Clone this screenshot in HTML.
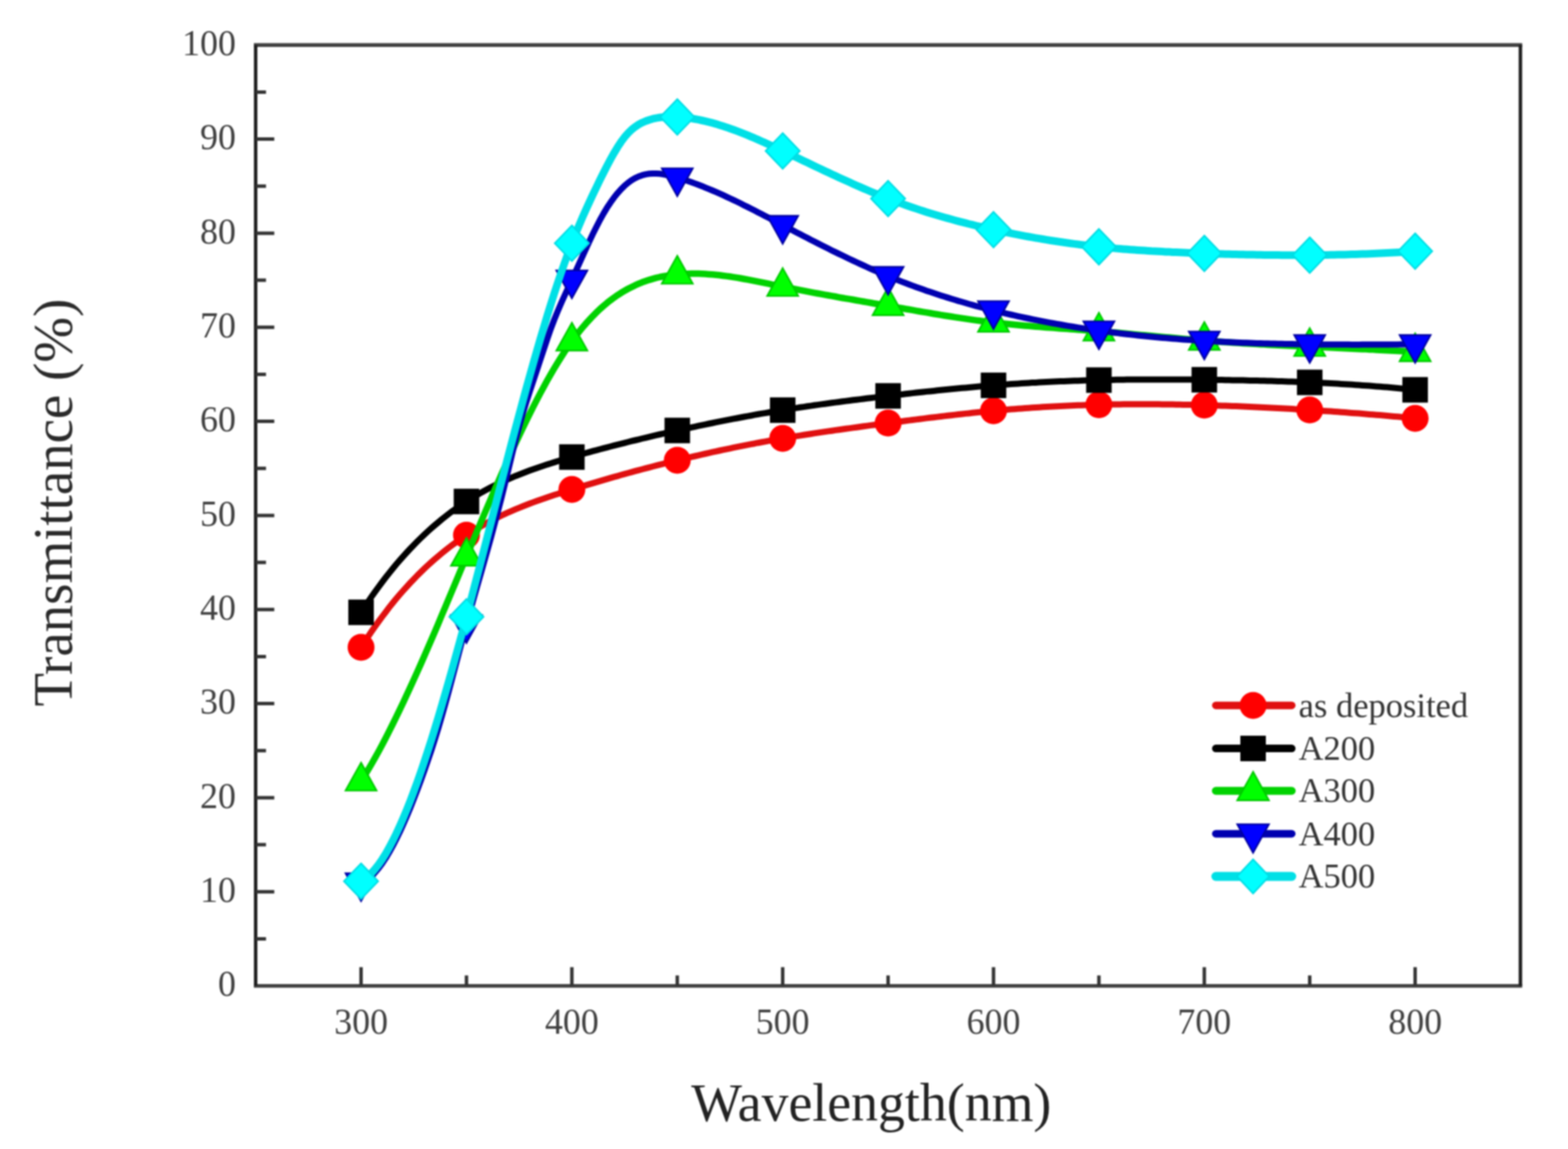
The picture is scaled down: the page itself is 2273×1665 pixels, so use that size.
<!DOCTYPE html>
<html><head><meta charset="utf-8"><title>Transmittance vs Wavelength</title>
<style>html,body{margin:0;padding:0;background:#fff;}body{width:2273px;height:1665px;overflow:hidden;}svg{display:block;filter:blur(0.85px);}</style>
</head><body>
<svg width="2273" height="1665" viewBox="0 0 2273 1665">
<rect width="2273" height="1665" fill="#fff"/>
<path d="M523.4,938.0 L528.5,930.1 L533.6,922.4 L538.7,914.9 L543.8,907.6 L548.9,900.5 L554.0,893.6 L559.1,886.9 L564.1,880.3 L569.2,873.9 L574.3,867.7 L579.4,861.7 L584.5,855.9 L589.6,850.2 L594.7,844.6 L599.8,839.3 L604.9,834.0 L610.0,829.0 L615.1,824.1 L620.2,819.3 L625.3,814.7 L630.4,810.2 L635.5,805.8 L640.5,801.6 L645.6,797.5 L650.7,793.5 L655.8,789.7 L660.9,786.0 L666.0,782.4 L671.1,778.9 L676.2,775.5 L681.3,772.2 L686.4,769.1 L691.5,766.0 L696.6,763.0 L701.7,760.1 L706.8,757.3 L711.9,754.6 L716.9,752.0 L722.0,749.5 L727.1,747.0 L732.2,744.7 L737.3,742.3 L742.4,740.1 L747.5,737.9 L752.6,735.8 L757.7,733.8 L762.8,731.8 L767.9,729.8 L773.0,727.9 L778.1,726.1 L783.2,724.2 L788.3,722.5 L793.3,720.7 L798.4,719.0 L803.5,717.3 L808.6,715.7 L813.7,714.1 L818.8,712.5 L823.9,710.9 L829.0,709.3 L834.1,707.7 L839.2,706.2 L844.3,704.6 L849.4,703.1 L854.5,701.6 L859.6,700.1 L864.7,698.6 L869.7,697.1 L874.8,695.6 L879.9,694.1 L885.0,692.6 L890.1,691.2 L895.2,689.8 L900.3,688.3 L905.4,686.9 L910.5,685.5 L915.6,684.1 L920.7,682.7 L925.8,681.3 L930.9,680.0 L936.0,678.6 L941.1,677.3 L946.1,676.0 L951.2,674.7 L956.3,673.3 L961.4,672.1 L966.5,670.8 L971.6,669.5 L976.7,668.2 L981.8,667.0 L986.9,665.8 L992.0,664.5 L997.1,663.3 L1002.2,662.1 L1007.3,661.0 L1012.4,659.8 L1017.5,658.6 L1022.5,657.5 L1027.6,656.3 L1032.7,655.2 L1037.8,654.1 L1042.9,653.0 L1048.0,651.9 L1053.1,650.8 L1058.2,649.8 L1063.3,648.7 L1068.4,647.7 L1073.5,646.7 L1078.6,645.6 L1083.7,644.6 L1088.8,643.6 L1093.9,642.7 L1098.9,641.7 L1104.0,640.8 L1109.1,639.8 L1114.2,638.9 L1119.3,638.0 L1124.4,637.1 L1129.5,636.2 L1134.6,635.3 L1139.7,634.4 L1144.8,633.6 L1149.9,632.7 L1155.0,631.9 L1160.1,631.1 L1165.2,630.3 L1170.3,629.5 L1175.3,628.7 L1180.4,627.9 L1185.5,627.1 L1190.6,626.4 L1195.7,625.6 L1200.8,624.9 L1205.9,624.2 L1211.0,623.4 L1216.1,622.7 L1221.2,622.0 L1226.3,621.3 L1231.4,620.6 L1236.5,619.9 L1241.6,619.2 L1246.7,618.5 L1251.7,617.8 L1256.8,617.1 L1261.9,616.4 L1267.0,615.8 L1272.1,615.1 L1277.2,614.4 L1282.3,613.8 L1287.4,613.1 L1292.5,612.4 L1297.6,611.8 L1302.7,611.1 L1307.8,610.5 L1312.9,609.8 L1318.0,609.1 L1323.1,608.5 L1328.1,607.9 L1333.2,607.2 L1338.3,606.6 L1343.4,605.9 L1348.5,605.3 L1353.6,604.7 L1358.7,604.1 L1363.8,603.5 L1368.9,602.9 L1374.0,602.3 L1379.1,601.7 L1384.2,601.1 L1389.3,600.5 L1394.4,600.0 L1399.5,599.4 L1404.5,598.9 L1409.6,598.3 L1414.7,597.8 L1419.8,597.3 L1424.9,596.8 L1430.0,596.3 L1435.1,595.8 L1440.2,595.3 L1445.3,594.8 L1450.4,594.4 L1455.5,593.9 L1460.6,593.5 L1465.7,593.1 L1470.8,592.7 L1475.9,592.3 L1480.9,591.9 L1486.0,591.5 L1491.1,591.2 L1496.2,590.8 L1501.3,590.5 L1506.4,590.2 L1511.5,589.8 L1516.6,589.5 L1521.7,589.3 L1526.8,589.0 L1531.9,588.7 L1537.0,588.5 L1542.1,588.2 L1547.2,588.0 L1552.3,587.8 L1557.3,587.5 L1562.4,587.3 L1567.5,587.2 L1572.6,587.0 L1577.7,586.8 L1582.8,586.7 L1587.9,586.5 L1593.0,586.4 L1598.1,586.3 L1603.2,586.2 L1608.3,586.1 L1613.4,586.0 L1618.5,585.9 L1623.6,585.9 L1628.7,585.8 L1633.7,585.8 L1638.8,585.7 L1643.9,585.7 L1649.0,585.7 L1654.1,585.7 L1659.2,585.7 L1664.3,585.7 L1669.4,585.8 L1674.5,585.8 L1679.6,585.8 L1684.7,585.9 L1689.8,585.9 L1694.9,586.0 L1700.0,586.1 L1705.1,586.2 L1710.1,586.3 L1715.2,586.4 L1720.3,586.5 L1725.4,586.6 L1730.5,586.7 L1735.6,586.8 L1740.7,587.0 L1745.8,587.1 L1750.9,587.2 L1756.0,587.4 L1761.1,587.6 L1766.2,587.7 L1771.3,587.9 L1776.4,588.1 L1781.5,588.3 L1786.5,588.4 L1791.6,588.6 L1796.7,588.8 L1801.8,589.0 L1806.9,589.3 L1812.0,589.5 L1817.1,589.7 L1822.2,589.9 L1827.3,590.2 L1832.4,590.4 L1837.5,590.7 L1842.6,590.9 L1847.7,591.2 L1852.8,591.4 L1857.9,591.7 L1862.9,592.0 L1868.0,592.3 L1873.1,592.6 L1878.2,592.9 L1883.3,593.2 L1888.4,593.5 L1893.5,593.8 L1898.6,594.1 L1903.7,594.4 L1908.8,594.8 L1913.9,595.1 L1919.0,595.4 L1924.1,595.8 L1929.2,596.1 L1934.3,596.5 L1939.3,596.8 L1944.4,597.2 L1949.5,597.6 L1954.6,598.0 L1959.7,598.4 L1964.8,598.7 L1969.9,599.1 L1975.0,599.5 L1980.1,599.9 L1985.2,600.4 L1990.3,600.8 L1995.4,601.2 L2000.5,601.6 L2005.6,602.1 L2010.7,602.5 L2015.7,602.9 L2020.8,603.4 L2025.9,603.8 L2031.0,604.3 L2036.1,604.8 L2041.2,605.2 L2046.3,605.7 L2051.4,606.2" fill="none" stroke="#e01010" stroke-width="9" stroke-linejoin="round"/>
<circle cx="523.4" cy="938.0" r="19.5" fill="#ff0000"/>
<circle cx="676.2" cy="775.5" r="19.5" fill="#ff0000"/>
<circle cx="829.0" cy="709.3" r="19.5" fill="#ff0000"/>
<circle cx="981.8" cy="667.0" r="19.5" fill="#ff0000"/>
<circle cx="1134.6" cy="635.3" r="19.5" fill="#ff0000"/>
<circle cx="1287.4" cy="613.1" r="19.5" fill="#ff0000"/>
<circle cx="1440.2" cy="595.3" r="19.5" fill="#ff0000"/>
<circle cx="1593.0" cy="586.4" r="19.5" fill="#ff0000"/>
<circle cx="1745.8" cy="587.1" r="19.5" fill="#ff0000"/>
<circle cx="1898.6" cy="594.1" r="19.5" fill="#ff0000"/>
<circle cx="2051.4" cy="606.2" r="19.5" fill="#ff0000"/>
<path d="M523.4,887.3 L528.5,879.5 L533.6,871.9 L538.7,864.5 L543.8,857.3 L548.9,850.3 L554.0,843.5 L559.1,836.8 L564.1,830.4 L569.2,824.1 L574.3,817.9 L579.4,812.0 L584.5,806.2 L589.6,800.6 L594.7,795.1 L599.8,789.8 L604.9,784.6 L610.0,779.6 L615.1,774.7 L620.2,770.0 L625.3,765.4 L630.4,761.0 L635.5,756.7 L640.5,752.5 L645.6,748.5 L650.7,744.5 L655.8,740.7 L660.9,737.1 L666.0,733.5 L671.1,730.0 L676.2,726.7 L681.3,723.5 L686.4,720.3 L691.5,717.3 L696.6,714.4 L701.7,711.5 L706.8,708.8 L711.9,706.1 L716.9,703.6 L722.0,701.1 L727.1,698.7 L732.2,696.3 L737.3,694.1 L742.4,691.9 L747.5,689.7 L752.6,687.7 L757.7,685.7 L762.8,683.7 L767.9,681.8 L773.0,680.0 L778.1,678.2 L783.2,676.5 L788.3,674.8 L793.3,673.1 L798.4,671.5 L803.5,669.9 L808.6,668.3 L813.7,666.8 L818.8,665.3 L823.9,663.8 L829.0,662.3 L834.1,660.8 L839.2,659.4 L844.3,658.0 L849.4,656.5 L854.5,655.1 L859.6,653.7 L864.7,652.4 L869.7,651.0 L874.8,649.6 L879.9,648.3 L885.0,647.0 L890.1,645.6 L895.2,644.3 L900.3,643.1 L905.4,641.8 L910.5,640.5 L915.6,639.2 L920.7,638.0 L925.8,636.8 L930.9,635.5 L936.0,634.3 L941.1,633.1 L946.1,631.9 L951.2,630.7 L956.3,629.5 L961.4,628.4 L966.5,627.2 L971.6,626.1 L976.7,624.9 L981.8,623.8 L986.9,622.7 L992.0,621.6 L997.1,620.5 L1002.2,619.4 L1007.3,618.3 L1012.4,617.2 L1017.5,616.1 L1022.5,615.1 L1027.6,614.0 L1032.7,613.0 L1037.8,611.9 L1042.9,610.9 L1048.0,609.9 L1053.1,608.9 L1058.2,607.9 L1063.3,606.9 L1068.4,606.0 L1073.5,605.0 L1078.6,604.0 L1083.7,603.1 L1088.8,602.2 L1093.9,601.2 L1098.9,600.3 L1104.0,599.4 L1109.1,598.6 L1114.2,597.7 L1119.3,596.8 L1124.4,596.0 L1129.5,595.1 L1134.6,594.3 L1139.7,593.5 L1144.8,592.7 L1149.9,591.9 L1155.0,591.1 L1160.1,590.3 L1165.2,589.6 L1170.3,588.8 L1175.3,588.1 L1180.4,587.3 L1185.5,586.6 L1190.6,585.9 L1195.7,585.2 L1200.8,584.5 L1205.9,583.8 L1211.0,583.1 L1216.1,582.5 L1221.2,581.8 L1226.3,581.1 L1231.4,580.5 L1236.5,579.8 L1241.6,579.2 L1246.7,578.6 L1251.7,578.0 L1256.8,577.3 L1261.9,576.7 L1267.0,576.1 L1272.1,575.5 L1277.2,574.9 L1282.3,574.3 L1287.4,573.7 L1292.5,573.1 L1297.6,572.5 L1302.7,571.9 L1307.8,571.4 L1312.9,570.8 L1318.0,570.2 L1323.1,569.6 L1328.1,569.1 L1333.2,568.5 L1338.3,568.0 L1343.4,567.4 L1348.5,566.9 L1353.6,566.4 L1358.7,565.8 L1363.8,565.3 L1368.9,564.8 L1374.0,564.3 L1379.1,563.8 L1384.2,563.3 L1389.3,562.8 L1394.4,562.3 L1399.5,561.9 L1404.5,561.4 L1409.6,560.9 L1414.7,560.5 L1419.8,560.1 L1424.9,559.6 L1430.0,559.2 L1435.1,558.8 L1440.2,558.4 L1445.3,558.0 L1450.4,557.6 L1455.5,557.3 L1460.6,556.9 L1465.7,556.5 L1470.8,556.2 L1475.9,555.9 L1480.9,555.6 L1486.0,555.2 L1491.1,554.9 L1496.2,554.6 L1501.3,554.4 L1506.4,554.1 L1511.5,553.8 L1516.6,553.6 L1521.7,553.3 L1526.8,553.1 L1531.9,552.8 L1537.0,552.6 L1542.1,552.4 L1547.2,552.2 L1552.3,552.0 L1557.3,551.8 L1562.4,551.7 L1567.5,551.5 L1572.6,551.3 L1577.7,551.2 L1582.8,551.1 L1587.9,550.9 L1593.0,550.8 L1598.1,550.7 L1603.2,550.6 L1608.3,550.5 L1613.4,550.4 L1618.5,550.3 L1623.6,550.2 L1628.7,550.2 L1633.7,550.1 L1638.8,550.1 L1643.9,550.0 L1649.0,550.0 L1654.1,549.9 L1659.2,549.9 L1664.3,549.9 L1669.4,549.9 L1674.5,549.9 L1679.6,549.9 L1684.7,549.9 L1689.8,549.9 L1694.9,549.9 L1700.0,549.9 L1705.1,550.0 L1710.1,550.0 L1715.2,550.0 L1720.3,550.1 L1725.4,550.1 L1730.5,550.1 L1735.6,550.2 L1740.7,550.2 L1745.8,550.3 L1750.9,550.4 L1756.0,550.4 L1761.1,550.5 L1766.2,550.6 L1771.3,550.6 L1776.4,550.7 L1781.5,550.8 L1786.5,550.9 L1791.6,551.0 L1796.7,551.1 L1801.8,551.1 L1806.9,551.3 L1812.0,551.4 L1817.1,551.5 L1822.2,551.6 L1827.3,551.7 L1832.4,551.8 L1837.5,552.0 L1842.6,552.1 L1847.7,552.3 L1852.8,552.4 L1857.9,552.6 L1862.9,552.7 L1868.0,552.9 L1873.1,553.1 L1878.2,553.3 L1883.3,553.5 L1888.4,553.7 L1893.5,553.9 L1898.6,554.1 L1903.7,554.3 L1908.8,554.6 L1913.9,554.8 L1919.0,555.0 L1924.1,555.3 L1929.2,555.6 L1934.3,555.8 L1939.3,556.1 L1944.4,556.4 L1949.5,556.7 L1954.6,557.0 L1959.7,557.3 L1964.8,557.7 L1969.9,558.0 L1975.0,558.4 L1980.1,558.7 L1985.2,559.1 L1990.3,559.5 L1995.4,559.9 L2000.5,560.3 L2005.6,560.7 L2010.7,561.1 L2015.7,561.5 L2020.8,562.0 L2025.9,562.4 L2031.0,562.9 L2036.1,563.4 L2041.2,563.9 L2046.3,564.4 L2051.4,564.9" fill="none" stroke="#000000" stroke-width="9" stroke-linejoin="round"/>
<rect x="504.9" y="868.8" width="37" height="37" fill="#000000"/>
<rect x="657.7" y="708.2" width="37" height="37" fill="#000000"/>
<rect x="810.5" y="643.8" width="37" height="37" fill="#000000"/>
<rect x="963.3" y="605.3" width="37" height="37" fill="#000000"/>
<rect x="1116.1" y="575.8" width="37" height="37" fill="#000000"/>
<rect x="1268.9" y="555.2" width="37" height="37" fill="#000000"/>
<rect x="1421.7" y="539.9" width="37" height="37" fill="#000000"/>
<rect x="1574.5" y="532.3" width="37" height="37" fill="#000000"/>
<rect x="1727.3" y="531.8" width="37" height="37" fill="#000000"/>
<rect x="1880.1" y="535.6" width="37" height="37" fill="#000000"/>
<rect x="2032.9" y="546.4" width="37" height="37" fill="#000000"/>
<path d="M523.4,1132.1 L528.5,1124.0 L533.6,1115.5 L538.7,1106.9 L543.8,1097.9 L548.9,1088.7 L554.0,1079.2 L559.1,1069.5 L564.1,1059.6 L569.2,1049.5 L574.3,1039.2 L579.4,1028.7 L584.5,1018.0 L589.6,1007.1 L594.7,996.1 L599.8,984.9 L604.9,973.6 L610.0,962.2 L615.1,950.6 L620.2,938.9 L625.3,927.1 L630.4,915.3 L635.5,903.4 L640.5,891.3 L645.6,879.3 L650.7,867.2 L655.8,855.0 L660.9,842.9 L666.0,830.7 L671.1,818.5 L676.2,806.3 L681.3,794.1 L686.4,782.0 L691.5,769.9 L696.6,757.8 L701.7,745.8 L706.8,733.9 L711.9,722.0 L716.9,710.2 L722.0,698.6 L727.1,687.0 L732.2,675.6 L737.3,664.2 L742.4,653.1 L747.5,642.0 L752.6,631.2 L757.7,620.5 L762.8,610.0 L767.9,599.7 L773.0,589.5 L778.1,579.6 L783.2,569.9 L788.3,560.5 L793.3,551.3 L798.4,542.3 L803.5,533.6 L808.6,525.2 L813.7,517.1 L818.8,509.2 L823.9,501.7 L829.0,494.5 L834.1,487.6 L839.2,481.0 L844.3,474.8 L849.4,468.8 L854.5,463.2 L859.6,457.8 L864.7,452.7 L869.7,447.9 L874.8,443.4 L879.9,439.1 L885.0,435.1 L890.1,431.3 L895.2,427.7 L900.3,424.4 L905.4,421.4 L910.5,418.5 L915.6,415.9 L920.7,413.4 L925.8,411.2 L930.9,409.1 L936.0,407.3 L941.1,405.6 L946.1,404.1 L951.2,402.7 L956.3,401.5 L961.4,400.5 L966.5,399.6 L971.6,398.8 L976.7,398.1 L981.8,397.6 L986.9,397.2 L992.0,396.9 L997.1,396.7 L1002.2,396.6 L1007.3,396.6 L1012.4,396.6 L1017.5,396.8 L1022.5,397.1 L1027.6,397.4 L1032.7,397.8 L1037.8,398.3 L1042.9,398.8 L1048.0,399.5 L1053.1,400.1 L1058.2,400.8 L1063.3,401.6 L1068.4,402.4 L1073.5,403.3 L1078.6,404.2 L1083.7,405.1 L1088.8,406.1 L1093.9,407.1 L1098.9,408.1 L1104.0,409.1 L1109.1,410.2 L1114.2,411.2 L1119.3,412.3 L1124.4,413.3 L1129.5,414.4 L1134.6,415.4 L1139.7,416.4 L1144.8,417.4 L1149.9,418.5 L1155.0,419.5 L1160.1,420.4 L1165.2,421.4 L1170.3,422.4 L1175.3,423.3 L1180.4,424.3 L1185.5,425.2 L1190.6,426.2 L1195.7,427.1 L1200.8,428.0 L1205.9,428.9 L1211.0,429.8 L1216.1,430.8 L1221.2,431.7 L1226.3,432.6 L1231.4,433.4 L1236.5,434.3 L1241.6,435.2 L1246.7,436.1 L1251.7,437.0 L1256.8,437.9 L1261.9,438.8 L1267.0,439.7 L1272.1,440.5 L1277.2,441.4 L1282.3,442.3 L1287.4,443.2 L1292.5,444.1 L1297.6,445.0 L1302.7,445.9 L1307.8,446.8 L1312.9,447.7 L1318.0,448.5 L1323.1,449.4 L1328.1,450.3 L1333.2,451.2 L1338.3,452.1 L1343.4,452.9 L1348.5,453.8 L1353.6,454.7 L1358.7,455.5 L1363.8,456.4 L1368.9,457.2 L1374.0,458.0 L1379.1,458.8 L1384.2,459.6 L1389.3,460.4 L1394.4,461.1 L1399.5,461.9 L1404.5,462.6 L1409.6,463.4 L1414.7,464.1 L1419.8,464.7 L1424.9,465.4 L1430.0,466.1 L1435.1,466.7 L1440.2,467.3 L1445.3,467.9 L1450.4,468.4 L1455.5,469.0 L1460.6,469.5 L1465.7,470.0 L1470.8,470.5 L1475.9,471.0 L1480.9,471.5 L1486.0,471.9 L1491.1,472.3 L1496.2,472.8 L1501.3,473.2 L1506.4,473.6 L1511.5,474.0 L1516.6,474.4 L1521.7,474.7 L1526.8,475.1 L1531.9,475.5 L1537.0,475.9 L1542.1,476.2 L1547.2,476.6 L1552.3,477.0 L1557.3,477.3 L1562.4,477.7 L1567.5,478.1 L1572.6,478.4 L1577.7,478.8 L1582.8,479.2 L1587.9,479.6 L1593.0,480.0 L1598.1,480.4 L1603.2,480.8 L1608.3,481.3 L1613.4,481.7 L1618.5,482.1 L1623.6,482.6 L1628.7,483.0 L1633.7,483.5 L1638.8,484.0 L1643.9,484.4 L1649.0,484.9 L1654.1,485.4 L1659.2,485.8 L1664.3,486.3 L1669.4,486.8 L1674.5,487.2 L1679.6,487.7 L1684.7,488.2 L1689.8,488.7 L1694.9,489.1 L1700.0,489.6 L1705.1,490.0 L1710.1,490.5 L1715.2,490.9 L1720.3,491.4 L1725.4,491.8 L1730.5,492.3 L1735.6,492.7 L1740.7,493.1 L1745.8,493.5 L1750.9,493.9 L1756.0,494.3 L1761.1,494.7 L1766.2,495.0 L1771.3,495.4 L1776.4,495.7 L1781.5,496.1 L1786.5,496.4 L1791.6,496.7 L1796.7,497.1 L1801.8,497.4 L1806.9,497.7 L1812.0,498.0 L1817.1,498.3 L1822.2,498.6 L1827.3,498.9 L1832.4,499.1 L1837.5,499.4 L1842.6,499.7 L1847.7,499.9 L1852.8,500.2 L1857.9,500.5 L1862.9,500.7 L1868.0,501.0 L1873.1,501.2 L1878.2,501.4 L1883.3,501.7 L1888.4,501.9 L1893.5,502.2 L1898.6,502.4 L1903.7,502.6 L1908.8,502.9 L1913.9,503.1 L1919.0,503.3 L1924.1,503.6 L1929.2,503.8 L1934.3,504.0 L1939.3,504.3 L1944.4,504.5 L1949.5,504.7 L1954.6,504.9 L1959.7,505.2 L1964.8,505.4 L1969.9,505.7 L1975.0,505.9 L1980.1,506.1 L1985.2,506.4 L1990.3,506.6 L1995.4,506.9 L2000.5,507.2 L2005.6,507.4 L2010.7,507.7 L2015.7,508.0 L2020.8,508.2 L2025.9,508.5 L2031.0,508.8 L2036.1,509.1 L2041.2,509.4 L2046.3,509.7 L2051.4,510.0" fill="none" stroke="#00d200" stroke-width="9.5" stroke-linejoin="round"/>
<polygon points="523.4,1105.2 545.9,1145.6 500.9,1145.6" fill="#00ff00" stroke="#00c800" stroke-width="2.4" stroke-linejoin="miter"/>
<polygon points="676.2,779.4 698.7,819.8 653.7,819.8" fill="#00ff00" stroke="#00c800" stroke-width="2.4" stroke-linejoin="miter"/>
<polygon points="829.0,467.6 851.5,508.0 806.5,508.0" fill="#00ff00" stroke="#00c800" stroke-width="2.4" stroke-linejoin="miter"/>
<polygon points="981.8,370.7 1004.3,411.1 959.3,411.1" fill="#00ff00" stroke="#00c800" stroke-width="2.4" stroke-linejoin="miter"/>
<polygon points="1134.6,388.5 1157.1,428.9 1112.1,428.9" fill="#00ff00" stroke="#00c800" stroke-width="2.4" stroke-linejoin="miter"/>
<polygon points="1287.4,416.3 1309.9,456.7 1264.9,456.7" fill="#00ff00" stroke="#00c800" stroke-width="2.4" stroke-linejoin="miter"/>
<polygon points="1440.2,440.4 1462.7,480.8 1417.7,480.8" fill="#00ff00" stroke="#00c800" stroke-width="2.4" stroke-linejoin="miter"/>
<polygon points="1593.0,453.1 1615.5,493.5 1570.5,493.5" fill="#00ff00" stroke="#00c800" stroke-width="2.4" stroke-linejoin="miter"/>
<polygon points="1745.8,466.6 1768.3,507.0 1723.3,507.0" fill="#00ff00" stroke="#00c800" stroke-width="2.4" stroke-linejoin="miter"/>
<polygon points="1898.6,475.5 1921.1,515.9 1876.1,515.9" fill="#00ff00" stroke="#00c800" stroke-width="2.4" stroke-linejoin="miter"/>
<polygon points="2051.4,483.1 2073.9,523.5 2028.9,523.5" fill="#00ff00" stroke="#00c800" stroke-width="2.4" stroke-linejoin="miter"/>
<path d="M523.4,1279.0 L528.5,1276.7 L533.6,1273.4 L538.7,1269.2 L543.8,1264.0 L548.9,1258.0 L554.0,1251.2 L559.1,1243.6 L564.1,1235.2 L569.2,1226.1 L574.3,1216.2 L579.4,1205.8 L584.5,1194.6 L589.6,1182.9 L594.7,1170.7 L599.8,1157.9 L604.9,1144.7 L610.0,1130.9 L615.1,1116.8 L620.2,1102.1 L625.3,1087.0 L630.4,1071.1 L635.5,1054.7 L640.5,1037.4 L645.6,1019.4 L650.7,1000.8 L655.8,981.7 L660.9,962.4 L666.0,943.1 L671.1,923.8 L676.2,904.8 L681.3,886.2 L686.4,868.0 L691.5,850.0 L696.6,832.2 L701.7,814.3 L706.8,796.2 L711.9,778.0 L716.9,759.3 L722.0,740.2 L727.1,720.5 L732.2,700.0 L737.3,678.9 L742.4,657.7 L747.5,637.0 L752.6,617.5 L757.7,599.6 L762.8,583.0 L767.9,567.4 L773.0,552.1 L778.1,536.8 L783.2,521.3 L788.3,506.0 L793.3,491.0 L798.4,476.6 L803.5,463.1 L808.6,450.6 L813.7,438.8 L818.8,427.5 L823.9,416.4 L829.0,405.4 L834.1,394.2 L839.2,382.9 L844.3,371.6 L849.4,360.4 L854.5,349.3 L859.6,338.6 L864.7,328.4 L869.7,318.7 L874.8,309.6 L879.9,301.1 L885.0,293.4 L890.1,286.3 L895.2,279.9 L900.3,274.2 L905.4,269.2 L910.5,264.8 L915.6,261.1 L920.7,258.1 L925.8,255.7 L930.9,253.9 L936.0,252.6 L941.1,251.8 L946.1,251.4 L951.2,251.5 L956.3,251.8 L961.4,252.5 L966.5,253.5 L971.6,254.6 L976.7,255.9 L981.8,257.4 L986.9,258.9 L992.0,260.6 L997.1,262.3 L1002.2,264.0 L1007.3,265.9 L1012.4,267.8 L1017.5,269.7 L1022.5,271.8 L1027.6,273.9 L1032.7,276.0 L1037.8,278.2 L1042.9,280.4 L1048.0,282.7 L1053.1,285.1 L1058.2,287.5 L1063.3,289.9 L1068.4,292.3 L1073.5,294.8 L1078.6,297.4 L1083.7,299.9 L1088.8,302.5 L1093.9,305.1 L1098.9,307.7 L1104.0,310.3 L1109.1,313.0 L1114.2,315.6 L1119.3,318.3 L1124.4,321.0 L1129.5,323.6 L1134.6,326.3 L1139.7,329.0 L1144.8,331.6 L1149.9,334.3 L1155.0,336.9 L1160.1,339.6 L1165.2,342.2 L1170.3,344.8 L1175.3,347.5 L1180.4,350.1 L1185.5,352.6 L1190.6,355.2 L1195.7,357.8 L1200.8,360.3 L1205.9,362.9 L1211.0,365.4 L1216.1,367.9 L1221.2,370.3 L1226.3,372.8 L1231.4,375.2 L1236.5,377.6 L1241.6,380.0 L1246.7,382.4 L1251.7,384.7 L1256.8,387.0 L1261.9,389.3 L1267.0,391.5 L1272.1,393.7 L1277.2,395.9 L1282.3,398.1 L1287.4,400.2 L1292.5,402.3 L1297.6,404.3 L1302.7,406.4 L1307.8,408.4 L1312.9,410.3 L1318.0,412.2 L1323.1,414.1 L1328.1,416.0 L1333.2,417.8 L1338.3,419.6 L1343.4,421.4 L1348.5,423.1 L1353.6,424.8 L1358.7,426.5 L1363.8,428.2 L1368.9,429.8 L1374.0,431.4 L1379.1,433.0 L1384.2,434.5 L1389.3,436.1 L1394.4,437.5 L1399.5,439.0 L1404.5,440.5 L1409.6,441.9 L1414.7,443.3 L1419.8,444.6 L1424.9,446.0 L1430.0,447.3 L1435.1,448.6 L1440.2,449.9 L1445.3,451.2 L1450.4,452.4 L1455.5,453.6 L1460.6,454.8 L1465.7,456.0 L1470.8,457.1 L1475.9,458.3 L1480.9,459.4 L1486.0,460.5 L1491.1,461.5 L1496.2,462.6 L1501.3,463.6 L1506.4,464.6 L1511.5,465.6 L1516.6,466.6 L1521.7,467.6 L1526.8,468.5 L1531.9,469.4 L1537.0,470.3 L1542.1,471.2 L1547.2,472.1 L1552.3,472.9 L1557.3,473.8 L1562.4,474.6 L1567.5,475.4 L1572.6,476.1 L1577.7,476.9 L1582.8,477.7 L1587.9,478.4 L1593.0,479.1 L1598.1,479.8 L1603.2,480.5 L1608.3,481.1 L1613.4,481.8 L1618.5,482.4 L1623.6,483.1 L1628.7,483.7 L1633.7,484.3 L1638.8,484.8 L1643.9,485.4 L1649.0,485.9 L1654.1,486.5 L1659.2,487.0 L1664.3,487.5 L1669.4,488.0 L1674.5,488.5 L1679.6,488.9 L1684.7,489.4 L1689.8,489.8 L1694.9,490.3 L1700.0,490.7 L1705.1,491.1 L1710.1,491.5 L1715.2,491.9 L1720.3,492.2 L1725.4,492.6 L1730.5,492.9 L1735.6,493.3 L1740.7,493.6 L1745.8,493.9 L1750.9,494.2 L1756.0,494.5 L1761.1,494.8 L1766.2,495.0 L1771.3,495.3 L1776.4,495.5 L1781.5,495.8 L1786.5,496.0 L1791.6,496.2 L1796.7,496.5 L1801.8,496.7 L1806.9,496.8 L1812.0,497.0 L1817.1,497.2 L1822.2,497.4 L1827.3,497.5 L1832.4,497.7 L1837.5,497.8 L1842.6,498.0 L1847.7,498.1 L1852.8,498.2 L1857.9,498.3 L1862.9,498.4 L1868.0,498.5 L1873.1,498.6 L1878.2,498.7 L1883.3,498.8 L1888.4,498.9 L1893.5,498.9 L1898.6,499.0 L1903.7,499.1 L1908.8,499.1 L1913.9,499.2 L1919.0,499.2 L1924.1,499.2 L1929.2,499.3 L1934.3,499.3 L1939.3,499.3 L1944.4,499.3 L1949.5,499.3 L1954.6,499.3 L1959.7,499.4 L1964.8,499.4 L1969.9,499.4 L1975.0,499.3 L1980.1,499.3 L1985.2,499.3 L1990.3,499.3 L1995.4,499.3 L2000.5,499.3 L2005.6,499.3 L2010.7,499.2 L2015.7,499.2 L2020.8,499.2 L2025.9,499.2 L2031.0,499.1 L2036.1,499.1 L2041.2,499.1 L2046.3,499.0 L2051.4,499.0" fill="none" stroke="#0000b0" stroke-width="9" stroke-linejoin="round"/>
<polygon points="500.9,1265.5 545.9,1265.5 523.4,1305.9" fill="#0000ff" stroke="#0000a0" stroke-width="2.4" stroke-linejoin="miter"/>
<polygon points="653.7,891.3 698.7,891.3 676.2,931.7" fill="#0000ff" stroke="#0000a0" stroke-width="2.4" stroke-linejoin="miter"/>
<polygon points="806.5,391.9 851.5,391.9 829.0,432.3" fill="#0000ff" stroke="#0000a0" stroke-width="2.4" stroke-linejoin="miter"/>
<polygon points="959.3,243.9 1004.3,243.9 981.8,284.3" fill="#0000ff" stroke="#0000a0" stroke-width="2.4" stroke-linejoin="miter"/>
<polygon points="1112.1,312.8 1157.1,312.8 1134.6,353.2" fill="#0000ff" stroke="#0000a0" stroke-width="2.4" stroke-linejoin="miter"/>
<polygon points="1264.9,386.7 1309.9,386.7 1287.4,427.1" fill="#0000ff" stroke="#0000a0" stroke-width="2.4" stroke-linejoin="miter"/>
<polygon points="1417.7,436.4 1462.7,436.4 1440.2,476.8" fill="#0000ff" stroke="#0000a0" stroke-width="2.4" stroke-linejoin="miter"/>
<polygon points="1570.5,465.6 1615.5,465.6 1593.0,506.0" fill="#0000ff" stroke="#0000a0" stroke-width="2.4" stroke-linejoin="miter"/>
<polygon points="1723.3,480.4 1768.3,480.4 1745.8,520.8" fill="#0000ff" stroke="#0000a0" stroke-width="2.4" stroke-linejoin="miter"/>
<polygon points="1876.1,485.5 1921.1,485.5 1898.6,525.9" fill="#0000ff" stroke="#0000a0" stroke-width="2.4" stroke-linejoin="miter"/>
<polygon points="2028.9,485.5 2073.9,485.5 2051.4,525.9" fill="#0000ff" stroke="#0000a0" stroke-width="2.4" stroke-linejoin="miter"/>
<path d="M523.4,1277.0 L528.5,1273.9 L533.6,1269.9 L538.7,1265.0 L543.8,1259.2 L548.9,1252.7 L554.0,1245.3 L559.1,1237.2 L564.1,1228.3 L569.2,1218.7 L574.3,1208.4 L579.4,1197.4 L584.5,1185.8 L589.6,1173.5 L594.7,1160.7 L599.8,1147.2 L604.9,1133.3 L610.0,1118.7 L615.1,1103.7 L620.2,1088.3 L625.3,1072.3 L630.4,1056.0 L635.5,1039.2 L640.5,1022.1 L645.6,1004.6 L650.7,986.8 L655.8,968.7 L660.9,950.3 L666.0,931.7 L671.1,912.9 L676.2,893.8 L681.3,874.6 L686.4,855.2 L691.5,835.7 L696.6,816.1 L701.7,796.4 L706.8,776.6 L711.9,756.9 L716.9,737.1 L722.0,717.4 L727.1,697.7 L732.2,678.1 L737.3,658.6 L742.4,639.2 L747.5,619.9 L752.6,600.8 L757.7,582.0 L762.8,563.3 L767.9,544.9 L773.0,526.8 L778.1,509.0 L783.2,491.4 L788.3,474.3 L793.3,457.5 L798.4,441.1 L803.5,425.1 L808.6,409.6 L813.7,394.6 L818.8,380.0 L823.9,366.0 L829.0,352.5 L834.1,339.6 L839.2,327.2 L844.3,315.2 L849.4,303.7 L854.5,292.6 L859.6,281.7 L864.7,271.1 L869.7,260.7 L874.8,250.5 L879.9,240.5 L885.0,230.9 L890.1,221.8 L895.2,213.3 L900.3,205.6 L905.4,198.7 L910.5,192.9 L915.6,187.9 L920.7,183.8 L925.8,180.4 L930.9,177.7 L936.0,175.5 L941.1,173.7 L946.1,172.2 L951.2,171.1 L956.3,170.3 L961.4,169.7 L966.5,169.3 L971.6,169.2 L976.7,169.3 L981.8,169.5 L986.9,169.9 L992.0,170.3 L997.1,170.9 L1002.2,171.6 L1007.3,172.5 L1012.4,173.4 L1017.5,174.5 L1022.5,175.6 L1027.6,176.9 L1032.7,178.2 L1037.8,179.6 L1042.9,181.2 L1048.0,182.8 L1053.1,184.4 L1058.2,186.2 L1063.3,188.0 L1068.4,189.9 L1073.5,191.9 L1078.6,193.9 L1083.7,195.9 L1088.8,198.1 L1093.9,200.2 L1098.9,202.4 L1104.0,204.7 L1109.1,206.9 L1114.2,209.3 L1119.3,211.6 L1124.4,213.9 L1129.5,216.3 L1134.6,218.7 L1139.7,221.1 L1144.8,223.5 L1149.9,225.9 L1155.0,228.3 L1160.1,230.8 L1165.2,233.2 L1170.3,235.6 L1175.3,238.0 L1180.4,240.4 L1185.5,242.9 L1190.6,245.3 L1195.7,247.7 L1200.8,250.1 L1205.9,252.4 L1211.0,254.8 L1216.1,257.2 L1221.2,259.5 L1226.3,261.8 L1231.4,264.1 L1236.5,266.4 L1241.6,268.7 L1246.7,270.9 L1251.7,273.1 L1256.8,275.3 L1261.9,277.5 L1267.0,279.6 L1272.1,281.7 L1277.2,283.8 L1282.3,285.8 L1287.4,287.8 L1292.5,289.8 L1297.6,291.7 L1302.7,293.6 L1307.8,295.4 L1312.9,297.2 L1318.0,299.0 L1323.1,300.7 L1328.1,302.4 L1333.2,304.1 L1338.3,305.8 L1343.4,307.4 L1348.5,309.0 L1353.6,310.5 L1358.7,312.0 L1363.8,313.5 L1368.9,315.0 L1374.0,316.4 L1379.1,317.8 L1384.2,319.2 L1389.3,320.6 L1394.4,321.9 L1399.5,323.2 L1404.5,324.5 L1409.6,325.7 L1414.7,327.0 L1419.8,328.2 L1424.9,329.4 L1430.0,330.5 L1435.1,331.7 L1440.2,332.8 L1445.3,333.9 L1450.4,335.0 L1455.5,336.1 L1460.6,337.1 L1465.7,338.1 L1470.8,339.2 L1475.9,340.1 L1480.9,341.1 L1486.0,342.1 L1491.1,343.0 L1496.2,343.9 L1501.3,344.8 L1506.4,345.7 L1511.5,346.5 L1516.6,347.4 L1521.7,348.2 L1526.8,349.0 L1531.9,349.8 L1537.0,350.5 L1542.1,351.3 L1547.2,352.0 L1552.3,352.7 L1557.3,353.4 L1562.4,354.0 L1567.5,354.7 L1572.6,355.3 L1577.7,355.9 L1582.8,356.5 L1587.9,357.1 L1593.0,357.6 L1598.1,358.1 L1603.2,358.6 L1608.3,359.1 L1613.4,359.6 L1618.5,360.1 L1623.6,360.5 L1628.7,360.9 L1633.7,361.3 L1638.8,361.7 L1643.9,362.1 L1649.0,362.4 L1654.1,362.8 L1659.2,363.1 L1664.3,363.4 L1669.4,363.8 L1674.5,364.0 L1679.6,364.3 L1684.7,364.6 L1689.8,364.9 L1694.9,365.1 L1700.0,365.4 L1705.1,365.6 L1710.1,365.8 L1715.2,366.0 L1720.3,366.2 L1725.4,366.5 L1730.5,366.6 L1735.6,366.8 L1740.7,367.0 L1745.8,367.2 L1750.9,367.4 L1756.0,367.5 L1761.1,367.7 L1766.2,367.9 L1771.3,368.0 L1776.4,368.2 L1781.5,368.3 L1786.5,368.4 L1791.6,368.6 L1796.7,368.7 L1801.8,368.8 L1806.9,368.9 L1812.0,369.0 L1817.1,369.1 L1822.2,369.2 L1827.3,369.3 L1832.4,369.4 L1837.5,369.5 L1842.6,369.5 L1847.7,369.6 L1852.8,369.6 L1857.9,369.7 L1862.9,369.7 L1868.0,369.7 L1873.1,369.7 L1878.2,369.8 L1883.3,369.8 L1888.4,369.7 L1893.5,369.7 L1898.6,369.7 L1903.7,369.7 L1908.8,369.6 L1913.9,369.6 L1919.0,369.5 L1924.1,369.4 L1929.2,369.3 L1934.3,369.2 L1939.3,369.1 L1944.4,369.0 L1949.5,368.9 L1954.6,368.8 L1959.7,368.6 L1964.8,368.5 L1969.9,368.3 L1975.0,368.1 L1980.1,367.9 L1985.2,367.7 L1990.3,367.5 L1995.4,367.3 L2000.5,367.1 L2005.6,366.8 L2010.7,366.5 L2015.7,366.3 L2020.8,366.0 L2025.9,365.7 L2031.0,365.4 L2036.1,365.1 L2041.2,364.7 L2046.3,364.4 L2051.4,364.0" fill="none" stroke="#00e0e6" stroke-width="11" stroke-linejoin="round"/>
<polygon points="523.4,1251.2 548.2,1277.0 523.4,1302.8 498.6,1277.0" fill="#00ffff" stroke="#00dce4" stroke-width="2.4" stroke-linejoin="miter"/>
<polygon points="676.2,868.0 701.0,893.8 676.2,919.6 651.4,893.8" fill="#00ffff" stroke="#00dce4" stroke-width="2.4" stroke-linejoin="miter"/>
<polygon points="829.0,326.7 853.8,352.5 829.0,378.3 804.2,352.5" fill="#00ffff" stroke="#00dce4" stroke-width="2.4" stroke-linejoin="miter"/>
<polygon points="981.8,143.7 1006.6,169.5 981.8,195.3 957.0,169.5" fill="#00ffff" stroke="#00dce4" stroke-width="2.4" stroke-linejoin="miter"/>
<polygon points="1134.6,192.9 1159.4,218.7 1134.6,244.5 1109.8,218.7" fill="#00ffff" stroke="#00dce4" stroke-width="2.4" stroke-linejoin="miter"/>
<polygon points="1287.4,262.0 1312.2,287.8 1287.4,313.6 1262.6,287.8" fill="#00ffff" stroke="#00dce4" stroke-width="2.4" stroke-linejoin="miter"/>
<polygon points="1440.2,307.0 1465.0,332.8 1440.2,358.6 1415.4,332.8" fill="#00ffff" stroke="#00dce4" stroke-width="2.4" stroke-linejoin="miter"/>
<polygon points="1593.0,331.8 1617.8,357.6 1593.0,383.4 1568.2,357.6" fill="#00ffff" stroke="#00dce4" stroke-width="2.4" stroke-linejoin="miter"/>
<polygon points="1745.8,341.4 1770.6,367.2 1745.8,393.0 1721.0,367.2" fill="#00ffff" stroke="#00dce4" stroke-width="2.4" stroke-linejoin="miter"/>
<polygon points="1898.6,343.9 1923.4,369.7 1898.6,395.5 1873.8,369.7" fill="#00ffff" stroke="#00dce4" stroke-width="2.4" stroke-linejoin="miter"/>
<polygon points="2051.4,338.2 2076.2,364.0 2051.4,389.8 2026.6,364.0" fill="#00ffff" stroke="#00dce4" stroke-width="2.4" stroke-linejoin="miter"/>
<path d="M368.0,65.3 H2206.6 M368.0,1428.6 H2206.6" stroke="#404040" stroke-width="5.4" fill="none"/>
<path d="M370.6,65.3 V1428.6 M2204.0,65.3 V1428.6" stroke="#1e1e1e" stroke-width="5" fill="none"/>
<path d="M370.6,1360.4 h15 M370.6,1292.3 h27 M370.6,1224.1 h15 M370.6,1155.9 h27 M370.6,1087.8 h15 M370.6,1019.6 h27 M370.6,951.4 h15 M370.6,883.3 h27 M370.6,815.1 h15 M370.6,746.9 h27 M370.6,678.8 h15 M370.6,610.6 h27 M370.6,542.5 h15 M370.6,474.3 h27 M370.6,406.1 h15 M370.6,338.0 h27 M370.6,269.8 h15 M370.6,201.6 h27 M370.6,133.5 h15 M523.4,1428.6 v-27 M676.2,1428.6 v-15 M829.0,1428.6 v-27 M981.8,1428.6 v-15 M1134.6,1428.6 v-27 M1287.4,1428.6 v-15 M1440.2,1428.6 v-27 M1593.0,1428.6 v-15 M1745.8,1428.6 v-27 M1898.6,1428.6 v-15 M2051.4,1428.6 v-27" stroke="#333" stroke-width="5" fill="none"/>
<text x="342" y="1443.2" text-anchor="end" font-family="'Liberation Serif', 'Times New Roman', serif" font-size="52" fill="#404040">0</text>
<text x="342" y="1306.9" text-anchor="end" font-family="'Liberation Serif', 'Times New Roman', serif" font-size="52" fill="#404040">10</text>
<text x="342" y="1170.5" text-anchor="end" font-family="'Liberation Serif', 'Times New Roman', serif" font-size="52" fill="#404040">20</text>
<text x="342" y="1034.2" text-anchor="end" font-family="'Liberation Serif', 'Times New Roman', serif" font-size="52" fill="#404040">30</text>
<text x="342" y="897.9" text-anchor="end" font-family="'Liberation Serif', 'Times New Roman', serif" font-size="52" fill="#404040">40</text>
<text x="342" y="761.5" text-anchor="end" font-family="'Liberation Serif', 'Times New Roman', serif" font-size="52" fill="#404040">50</text>
<text x="342" y="625.2" text-anchor="end" font-family="'Liberation Serif', 'Times New Roman', serif" font-size="52" fill="#404040">60</text>
<text x="342" y="488.9" text-anchor="end" font-family="'Liberation Serif', 'Times New Roman', serif" font-size="52" fill="#404040">70</text>
<text x="342" y="352.6" text-anchor="end" font-family="'Liberation Serif', 'Times New Roman', serif" font-size="52" fill="#404040">80</text>
<text x="342" y="216.2" text-anchor="end" font-family="'Liberation Serif', 'Times New Roman', serif" font-size="52" fill="#404040">90</text>
<text x="342" y="79.9" text-anchor="end" font-family="'Liberation Serif', 'Times New Roman', serif" font-size="52" fill="#404040">100</text>
<text x="523.4" y="1497.6" text-anchor="middle" font-family="'Liberation Serif', 'Times New Roman', serif" font-size="52" fill="#404040">300</text>
<text x="829.0" y="1497.6" text-anchor="middle" font-family="'Liberation Serif', 'Times New Roman', serif" font-size="52" fill="#404040">400</text>
<text x="1134.6" y="1497.6" text-anchor="middle" font-family="'Liberation Serif', 'Times New Roman', serif" font-size="52" fill="#404040">500</text>
<text x="1440.2" y="1497.6" text-anchor="middle" font-family="'Liberation Serif', 'Times New Roman', serif" font-size="52" fill="#404040">600</text>
<text x="1745.8" y="1497.6" text-anchor="middle" font-family="'Liberation Serif', 'Times New Roman', serif" font-size="52" fill="#404040">700</text>
<text x="2051.4" y="1497.6" text-anchor="middle" font-family="'Liberation Serif', 'Times New Roman', serif" font-size="52" fill="#404040">800</text>
<text x="1263" y="1624" text-anchor="middle" font-family="'Liberation Serif', 'Times New Roman', serif" font-size="78" fill="#222">Wavelength(nm)</text>
<text transform="translate(104,728.3) rotate(-90)" text-anchor="middle" font-family="'Liberation Serif', 'Times New Roman', serif" font-size="79.5" fill="#2a2a2a">Transmittance (%)</text>
<line x1="1762.5" y1="1022.2" x2="1872.5" y2="1022.2" stroke="#e01010" stroke-width="11" stroke-linecap="round"/>
<circle cx="1816.5" cy="1022.2" r="19.5" fill="#ff0000"/>
<text x="1882.5" y="1038.5" font-family="'Liberation Serif', 'Times New Roman', serif" font-size="50" fill="#333">as deposited</text>
<line x1="1762.5" y1="1084.6" x2="1872.5" y2="1084.6" stroke="#000000" stroke-width="11" stroke-linecap="round"/>
<rect x="1798.0" y="1066.1" width="37" height="37" fill="#000000"/>
<text x="1882.5" y="1100.9" font-family="'Liberation Serif', 'Times New Roman', serif" font-size="50" fill="#333">A200</text>
<line x1="1762.5" y1="1146" x2="1872.5" y2="1146" stroke="#00d200" stroke-width="11.5" stroke-linecap="round"/>
<polygon points="1816.5,1118.4 1839.5,1159.8 1793.5,1159.8" fill="#00ff00" stroke="#00c800" stroke-width="2.4" stroke-linejoin="miter"/>
<text x="1882.5" y="1162.3" font-family="'Liberation Serif', 'Times New Roman', serif" font-size="50" fill="#333">A300</text>
<line x1="1762.5" y1="1208.2" x2="1872.5" y2="1208.2" stroke="#0000b0" stroke-width="11" stroke-linecap="round"/>
<polygon points="1793.5,1194.4 1839.5,1194.4 1816.5,1235.8" fill="#0000ff" stroke="#0000a0" stroke-width="2.4" stroke-linejoin="miter"/>
<text x="1882.5" y="1224.5" font-family="'Liberation Serif', 'Times New Roman', serif" font-size="50" fill="#333">A400</text>
<line x1="1762.5" y1="1270" x2="1872.5" y2="1270" stroke="#00e0e6" stroke-width="13" stroke-linecap="round"/>
<polygon points="1816.5,1245.2 1839.8,1270.0 1816.5,1294.8 1793.2,1270.0" fill="#00ffff" stroke="#00dce4" stroke-width="2.4" stroke-linejoin="miter"/>
<text x="1882.5" y="1286.3" font-family="'Liberation Serif', 'Times New Roman', serif" font-size="50" fill="#333">A500</text>
</svg>
</body></html>
